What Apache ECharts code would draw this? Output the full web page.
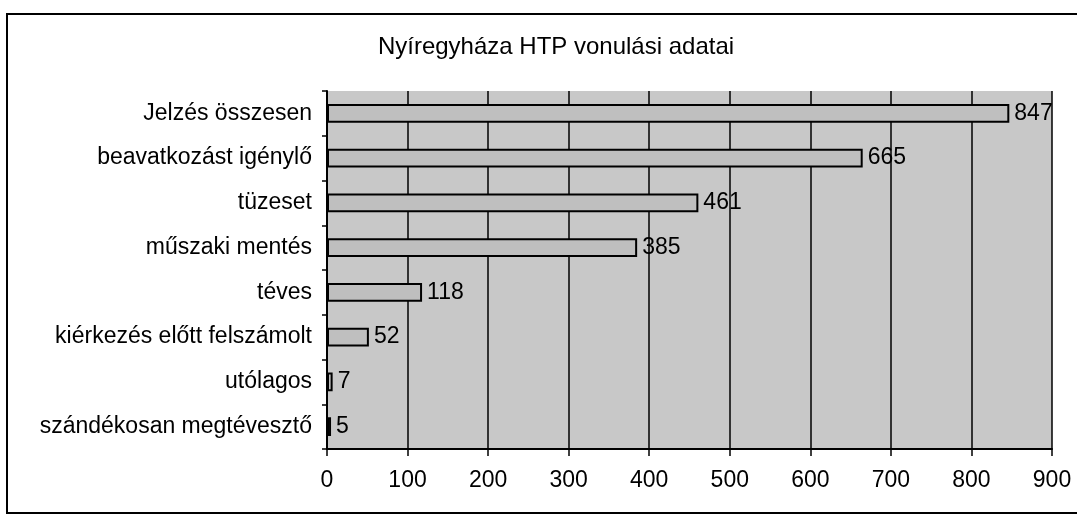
<!DOCTYPE html>
<html>
<head>
<meta charset="utf-8">
<script src="https://cdn.jsdelivr.net/npm/echarts@6/dist/echarts.min.js"></script>
<style>
  html, body { margin: 0; padding: 0; background: #ffffff; }
  #chart { width: 1077px; height: 515px; }
</style>
</head>
<body>
<div id="chart"></div>
<script>
// Nyíregyháza HTP call-out statistics
const categories = [
  'Jelzés összesen',
  'beavatkozást igénylő',
  'tüzeset',
  'műszaki mentés',
  'téves',
  'kiérkezés előtt felszámolt',
  'utólagos',
  'szándékosan megtévesztő'
];
const values = [847, 665, 461, 385, 118, 52, 7, 5];
const xTicks = { min: 0, max: 900, interval: 100 };

const FONT = '"Liberation Sans", Arial, sans-serif';

const chart = echarts.init(document.getElementById('chart'), null, { renderer: 'canvas' });

chart.setOption({
  backgroundColor: '#ffffff',
  animation: false,
  title: {
    text: 'Nyíregyháza HTP vonulási adatai',
    left: 551,
    textAlign: 'center',
    top: 30,
    textStyle: { fontFamily: FONT, fontSize: 24, fontWeight: 'normal', color: '#000' }
  },
  // outer frame of the chart (left, top and bottom edges)
  graphic: [{
    type: 'polyline',
    shape: { points: [[1077, 14], [7, 14], [7, 513], [1077, 513]] },
    style: { stroke: '#000', lineWidth: 2, fill: null },
    silent: true
  }],
  grid: {
    left: 327,
    right: 25,
    top: 91,
    bottom: 66,
    show: true,
    backgroundColor: '#c8c8c8',
    borderWidth: 0
  },
  xAxis: {
    type: 'value',
    min: xTicks.min,
    max: xTicks.max,
    interval: xTicks.interval,
    axisLine: { show: true, lineStyle: { color: '#000', width: 2 } },
    axisTick: { show: true, length: 7, lineStyle: { color: '#000', width: 1.5 } },
    axisLabel: { margin: 20, fontFamily: FONT, fontSize: 23, color: '#000' },
    splitLine: { show: true, lineStyle: { color: '#000', width: 1.5 } }
  },
  yAxis: {
    type: 'category',
    data: categories,
    inverse: true,
    axisLine: { show: true, lineStyle: { color: '#000', width: 2 } },
    axisTick: { show: true, length: 5, lineStyle: { color: '#000', width: 1.5 } },
    axisLabel: { margin: 15, fontFamily: FONT, fontSize: 23, color: '#000' },
    splitLine: { show: false }
  },
  series: [{
    type: 'bar',
    data: values,
    barWidth: '42%',
    itemStyle: { color: '#bfbfbf', borderColor: '#000', borderWidth: 2 },
    label: {
      show: true,
      position: 'right',
      distance: 5,
      fontFamily: FONT,
      fontSize: 23,
      color: '#000'
    }
  }]
});
</script>
</body>
</html>
